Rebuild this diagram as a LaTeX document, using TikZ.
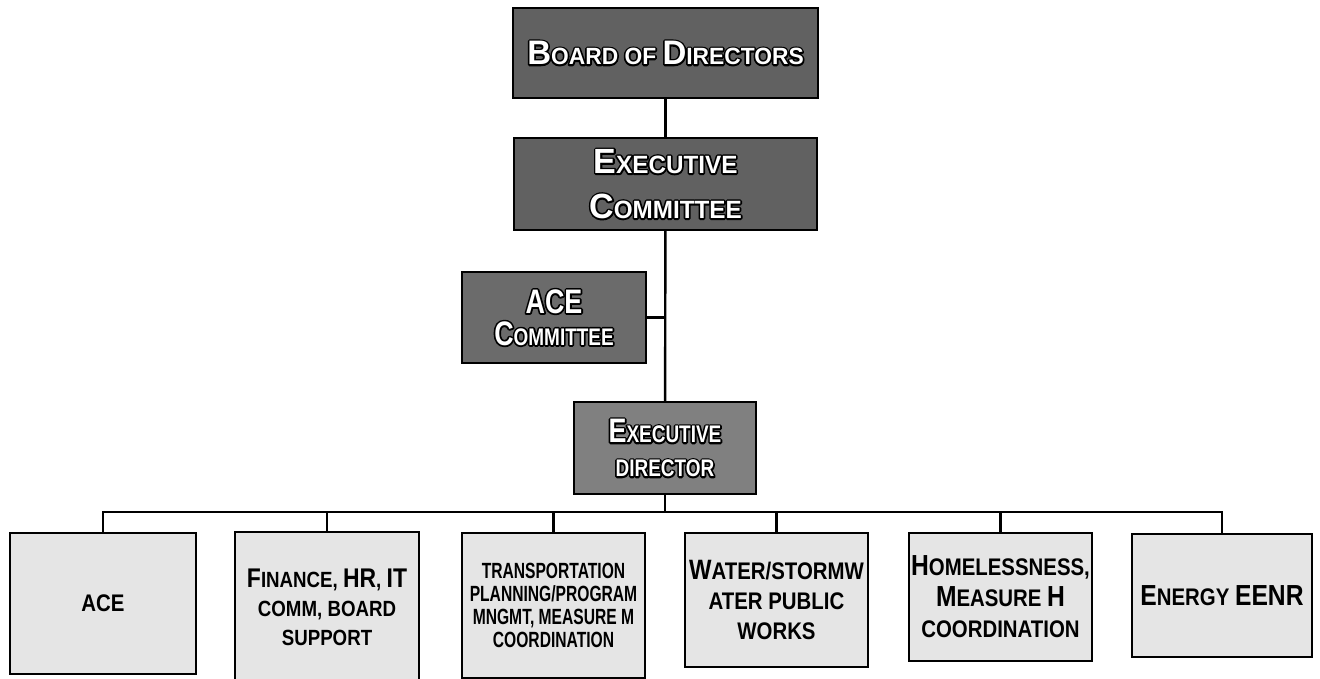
\documentclass[tikz,border=0pt]{standalone}
\usepackage{fontspec}
\setmainfont{Liberation Sans}
\newfontfamily\headfont[FakeStretch=0.97]{Liberation Sans Bold}
\newfontfamily\cmtefont[FakeStretch=0.79]{Liberation Sans Bold}
\newfontfamily\unitfont[FakeStretch=0.85]{Liberation Sans Bold}
\newfontfamily\transfont[FakeStretch=0.71]{Liberation Sans Bold}

% small caps by hand: first letters set larger
\def\capsz{34}
\newcommand\upc[1]{{\fontsize{\capsz}{\capsz}\selectfont #1}}
% white letters over a thick black stroked copy
\newcommand\olt[1]{\rlap{\special{pdf:literal direct 2 Tr 0 g 0 G 3.4 w 1 j}#1\special{pdf:literal direct 0 Tr 0 j 1 g 1 G}}#1}

\begin{document}
\begin{tikzpicture}[x=1pt, y=-1pt,
    box/.style={rectangle, draw=black, line width=2pt, inner sep=2pt, align=center},
    head/.style={box, fill=black!62, text=white, font=\headfont\fontsize{24}{45}\selectfont},
    cmte/.style={box, fill=black!58, text=white, font=\cmtefont\fontsize{24}{32}\selectfont},
    unit/.style={box, fill=black!10, minimum width=183pt, font=\unitfont\fontsize{22}{29}\selectfont\def\capsz{27}},
    link/.style={line width=2.4pt}]

  \clip (0,0) rectangle (1320,679);

  % governance
  \node[head, minimum width=305pt, minimum height=90pt, font=\headfont\fontsize{23.5}{30}\selectfont] (board) at (665.5,53)
    {\olt{\upc{B}OARD OF \upc{D}IRECTORS}};
  \node[head, minimum width=303pt, minimum height=92pt, font=\headfont\fontsize{25}{45}\selectfont\def\capsz{35}] (excom) at (665.5,184)
    {\olt{\upc{E}XECUTIVE}\\\olt{\upc{C}OMMITTEE}};
  \node[cmte, minimum width=184pt, minimum height=91pt] (acecom) at (554,317.5)
    {\olt{\upc{ACE}}\\\olt{\upc{C}OMMITTEE}};
  \node[cmte, fill=black!50, minimum width=182pt, minimum height=92pt, font=\cmtefont\fontsize{24}{34}\selectfont] (exdir) at (665,448)
    {\olt{\upc{E}XECUTIVE}\\\olt{DIRECTOR}};

  % departments
  \node[unit, minimum width=186pt, minimum height=141pt, font=\unitfont\fontsize{24}{29}\selectfont] (ace) at (103,603.5) {ACE};
  \node[unit, minimum width=184pt, minimum height=150pt] (fin) at (327,607)
    {\upc{F}INANCE, \upc{HR}, \upc{IT}\\COMM, BOARD\\SUPPORT};
  \node[unit, minimum height=145pt, font=\transfont\fontsize{22}{23}\selectfont] (trans) at (553.5,605.5)
    {TRANSPORTATION\\PLANNING/PROGRAM\\MNGMT, MEASURE M\\COORDINATION};
  \node[unit, minimum height=134pt, font=\unitfont\fontsize{24}{30}\selectfont\def\capsz{28}] (water) at (776.5,600)
    {\upc{W}ATER/STORMW\\ATER PUBLIC\\WORKS};
  \node[unit, minimum height=128pt, font=\unitfont\fontsize{24}{31}\selectfont\def\capsz{29}] (home) at (1000.5,597)
    {\upc{H}OMELESSNESS,\\\upc{M}EASURE \upc{H}\\COORDINATION};
  \node[unit, minimum width=180pt, minimum height=123pt, font=\unitfont\fontsize{24}{31}\selectfont\def\capsz{29}] (energy) at (1222,595.5)
    {\upc{E}NERGY \upc{EENR}};

  % reporting lines
  \coordinate (bus) at (666,512);
  \draw[link] (board) -- (excom);
  \draw[link] (excom) -- (exdir);
  \draw[link] (acecom.east) -- (acecom.east -| excom.south);
  \draw[link] (exdir.south) -- (exdir.south |- bus);
  \draw[link] (ace.north) |- (bus) -| (energy.north);
  \foreach \n in {fin, trans, water, home}
    \draw[link] (\n.north) -- (\n.north |- bus);
\end{tikzpicture}
\end{document}
